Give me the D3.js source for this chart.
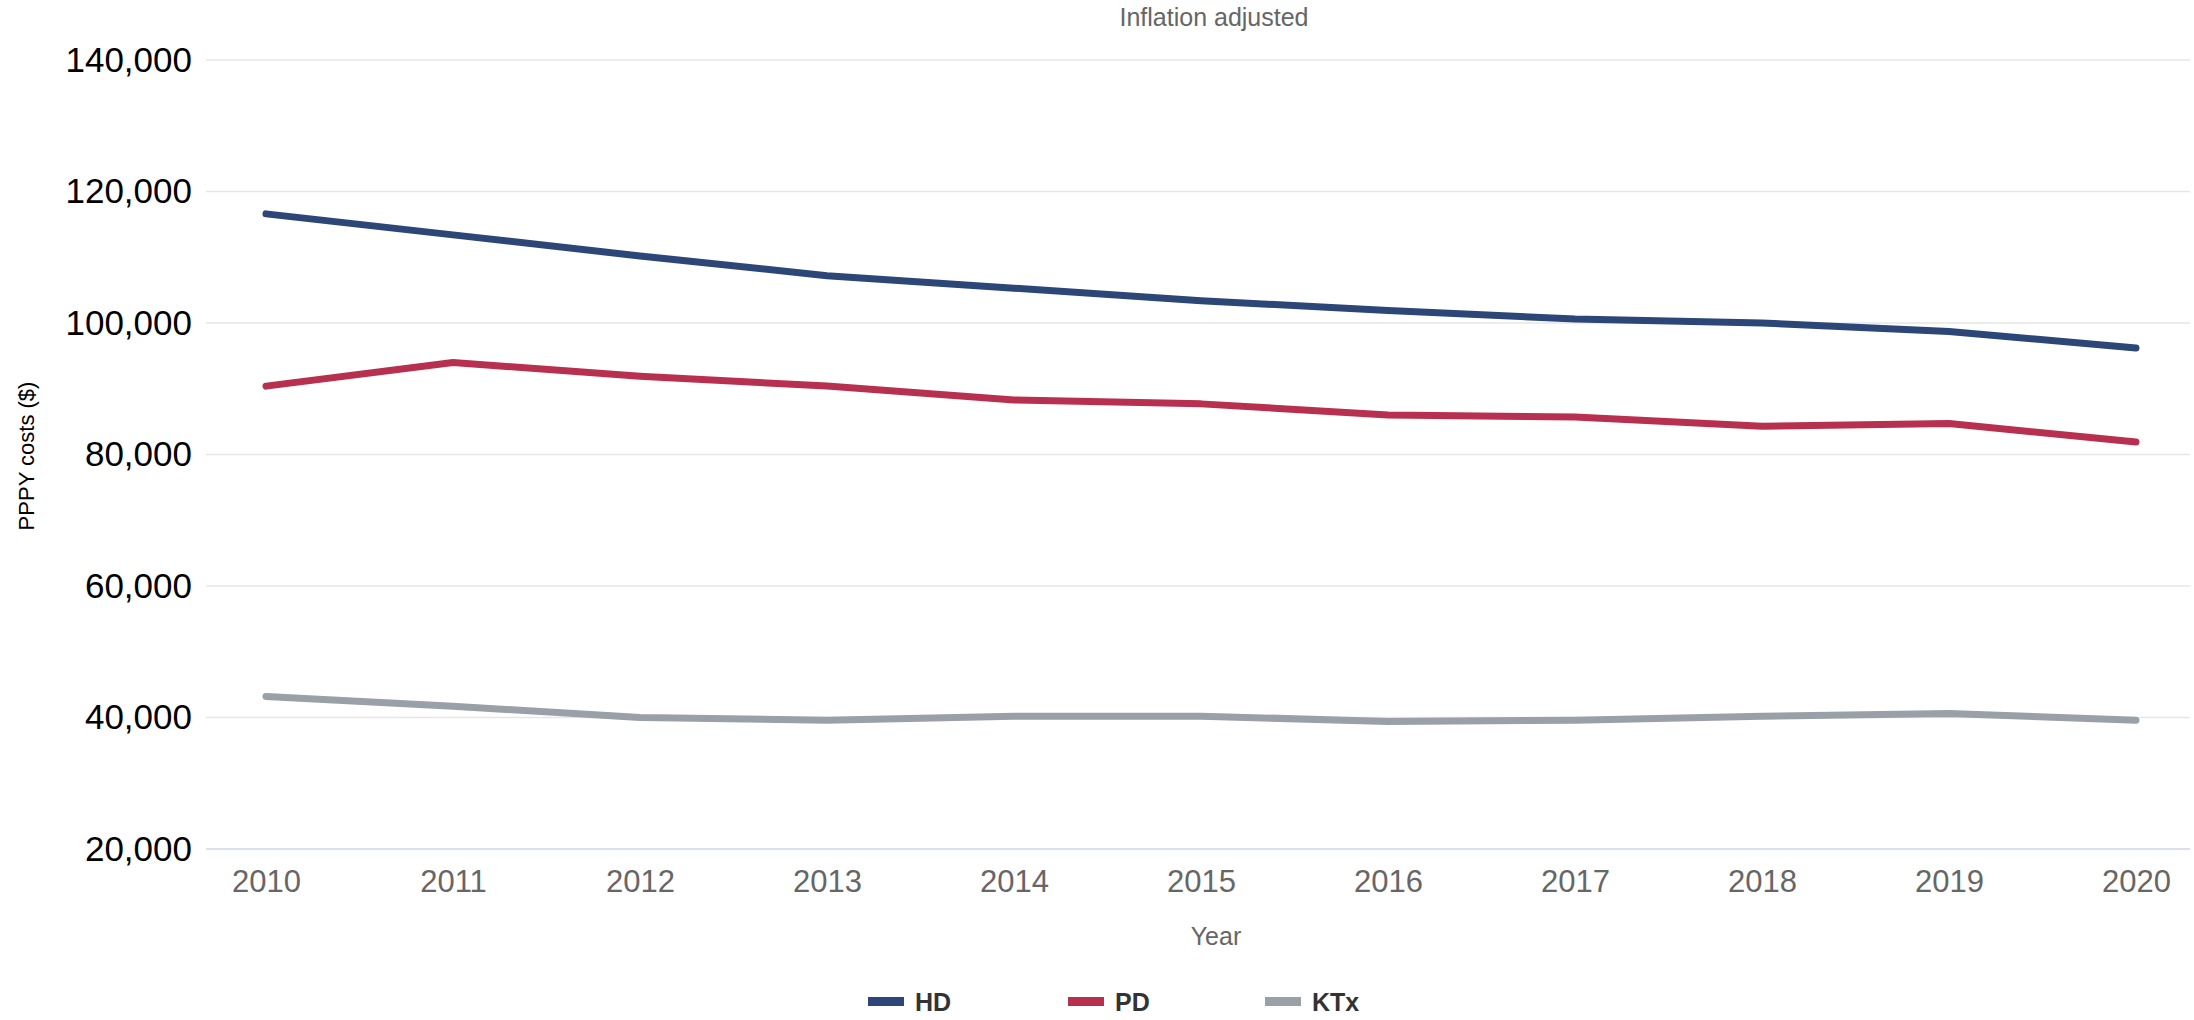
<!DOCTYPE html>
<html>
<head>
<meta charset="utf-8">
<script src="https://cdn.jsdelivr.net/npm/d3@7"></script>
<style>
  html, body { margin: 0; padding: 0; background: #ffffff; }
  svg { display: block; font-family: "Liberation Sans", Arial, Helvetica, sans-serif; }
</style>
</head>
<body>
<svg id="chart" width="2194" height="1020"></svg>
<script>
// Per-patient-per-year costs by modality, inflation adjusted
const years = [2010, 2011, 2012, 2013, 2014, 2015, 2016, 2017, 2018, 2019, 2020];
const hdValues  = [116600, 113400, 110200, 107200, 105300, 103400, 101900, 100600, 100000, 98700, 96200];
const pdValues  = [90400, 94000, 91900, 90400, 88300, 87700, 86000, 85700, 84300, 84700, 81900];
const ktxValues = [43200, 41700, 40000, 39600, 40200, 40200, 39400, 39600, 40200, 40600, 39600];
const seriesNames = ["HD", "PD", "KTx"];
const seriesColors = ["#2c4677", "#b8304f", "#9aa0a8"];
const yTicks = [20000, 40000, 60000, 80000, 100000, 120000, 140000];

const series = [
  { name: seriesNames[0], color: seriesColors[0], values: hdValues },
  { name: seriesNames[1], color: seriesColors[1], values: pdValues },
  { name: seriesNames[2], color: seriesColors[2], values: ktxValues }
];

const svg = d3.select("#chart");
const plot = { left: 206, right: 2190, top: 60, bottom: 849 };

const x = d3.scaleLinear()
  .domain([years[0], years[years.length - 1]])
  .range([266, 2136]);

const y = d3.scaleLinear()
  .domain([20000, 140000])
  .range([plot.bottom, plot.top]);

// Title
svg.append("text")
  .attr("x", 1214).attr("y", 26)
  .attr("text-anchor", "middle")
  .attr("font-size", 25)
  .attr("fill", "#666666")
  .text("Inflation adjusted");

// Horizontal grid lines
svg.append("g")
  .selectAll("line")
  .data(yTicks.filter(d => d !== 20000))
  .join("line")
  .attr("x1", plot.left).attr("x2", plot.right)
  .attr("y1", d => y(d)).attr("y2", d => y(d))
  .attr("stroke", "#e6e6e6")
  .attr("stroke-width", 1.5);

// Y axis labels
const yAxis = d3.axisLeft(y)
  .tickValues(yTicks)
  .tickSize(0)
  .tickPadding(0)
  .tickFormat(d3.format(",d"));

const gy = svg.append("g")
  .attr("transform", `translate(192,0)`)
  .call(yAxis);
gy.select(".domain").remove();
gy.selectAll("text")
  .attr("font-size", 35)
  .attr("fill", "#000000")
  .attr("font-family", "'Liberation Sans', Arial, sans-serif");

// X axis baseline
svg.append("line")
  .attr("x1", plot.left).attr("x2", plot.right)
  .attr("y1", y(20000)).attr("y2", y(20000))
  .attr("stroke", "#ccd6eb")
  .attr("stroke-width", 1.5);

// X axis labels
const xAxis = d3.axisBottom(x)
  .tickValues(years)
  .tickSize(0)
  .tickPadding(0)
  .tickFormat(d3.format("d"));

const gx = svg.append("g")
  .attr("transform", `translate(0,${plot.bottom + 21})`)
  .call(xAxis);
gx.select(".domain").remove();
gx.selectAll("text")
  .attr("font-size", 31)
  .attr("fill", "#666666")
  .attr("font-family", "'Liberation Sans', Arial, sans-serif");

// Axis titles
svg.append("text")
  .attr("x", 1216).attr("y", 945)
  .attr("text-anchor", "middle")
  .attr("font-size", 25)
  .attr("fill", "#666666")
  .text("Year");

svg.append("text")
  .attr("transform", "translate(34,456) rotate(-90)")
  .attr("text-anchor", "middle")
  .attr("font-size", 22)
  .attr("fill", "#000000")
  .text("PPPY costs ($)");

// Series lines
const line = d3.line()
  .x((d, i) => x(years[i]))
  .y(d => y(d));

svg.append("g")
  .selectAll("path")
  .data(series)
  .join("path")
  .attr("d", d => line(d.values))
  .attr("fill", "none")
  .attr("stroke", d => d.color)
  .attr("stroke-width", 7)
  .attr("stroke-linejoin", "round")
  .attr("stroke-linecap", "round");

// Legend
const legendX = [868, 1068, 1265];
const legend = svg.append("g")
  .selectAll("g")
  .data(series)
  .join("g")
  .attr("transform", (d, i) => `translate(${legendX[i]},1002)`);

legend.append("rect")
  .attr("x", 0).attr("y", -5)
  .attr("width", 36).attr("height", 9)
  .attr("fill", d => d.color);

legend.append("text")
  .attr("x", 47).attr("y", 9)
  .attr("font-size", 25)
  .attr("font-weight", "bold")
  .attr("fill", "#333333")
  .text(d => d.name);
</script>
</body>
</html>
